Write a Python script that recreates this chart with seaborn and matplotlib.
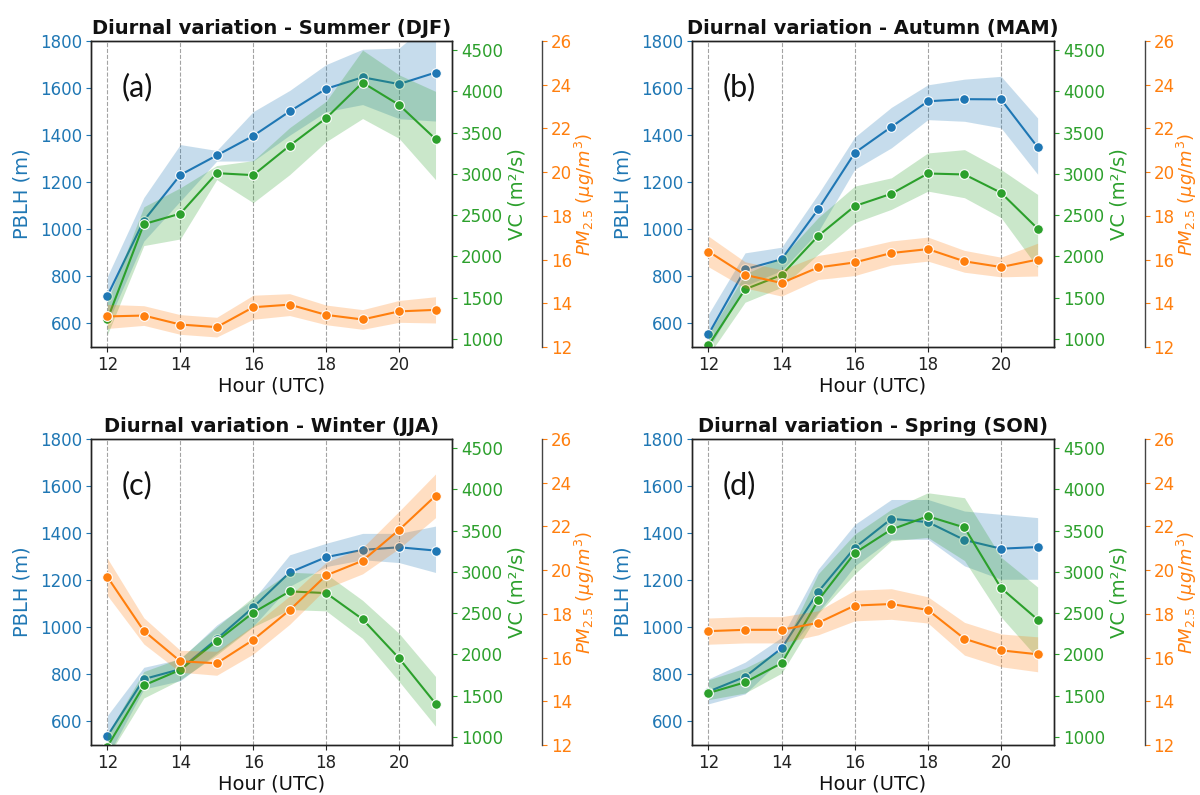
import matplotlib
matplotlib.use("Agg")
import matplotlib.pyplot as plt
import seaborn as sns

# ---------------- data ----------------
hours = [12, 13, 14, 15, 16, 17, 18, 19, 20, 21]
x_ticks = [12, 14, 16, 18, 20]
pblh_ticks = [600, 800, 1000, 1200, 1400, 1600, 1800]
vc_ticks = [1000, 1500, 2000, 2500, 3000, 3500, 4000, 4500]
pm_ticks = [12, 14, 16, 18, 20, 22, 24, 26]

titles = ["Diurnal variation - Summer (DJF)", "Diurnal variation - Autumn (MAM)",
          "Diurnal variation - Winter (JJA)", "Diurnal variation - Spring (SON)"]
panel_tags = ["(a)", "(b)", "(c)", "(d)"]

# Summer (DJF)
pblh_a = [717, 1037, 1231, 1314, 1397, 1501, 1597, 1646, 1617, 1666]
pblh_a_lo = [600, 950, 1120, 1290, 1290, 1400, 1500, 1530, 1470, 1460]
pblh_a_hi = [800, 1135, 1360, 1335, 1500, 1590, 1700, 1765, 1770, 1900]
vc_a = [1234, 2390, 2517, 3008, 2984, 3341, 3675, 4106, 3836, 3422]
vc_a_lo = [1050, 2130, 2210, 2930, 2650, 2990, 3390, 3670, 3430, 2930]
vc_a_hi = [1450, 2600, 2830, 3100, 3160, 3560, 3880, 4500, 4200, 4000]
pm_a = [13.40, 13.44, 13.03, 12.91, 13.82, 13.94, 13.47, 13.26, 13.63, 13.70]
pm_a_err = [0.55, 0.45, 0.45, 0.45, 0.55, 0.50, 0.45, 0.45, 0.50, 0.60]

# Autumn (MAM)
pblh_b = [554, 830, 873, 1085, 1325, 1435, 1544, 1553, 1552, 1349]
pblh_b_lo = [490, 760, 825, 990, 1255, 1346, 1466, 1459, 1431, 1234]
pblh_b_hi = [640, 900, 924, 1150, 1392, 1518, 1614, 1638, 1650, 1473]
vc_b = [920, 1600, 1773, 2247, 2609, 2758, 3004, 2992, 2770, 2336]
vc_b_lo = [800, 1443, 1624, 2026, 2408, 2569, 2790, 2710, 2469, 1865]
vc_b_hi = [1050, 1785, 1986, 2469, 2851, 2951, 3253, 3293, 3052, 2750]
pm_b = [16.37, 15.30, 14.93, 15.64, 15.87, 16.30, 16.48, 15.92, 15.66, 16.00]
pm_b_err = [0.70, 0.60, 0.60, 0.55, 0.60, 0.55, 0.55, 0.50, 0.45, 0.75]

# Winter (JJA)
pblh_c = [538, 780, 822, 950, 1085, 1233, 1298, 1329, 1340, 1326]
pblh_c_lo = [450, 738, 773, 890, 1005, 1174, 1258, 1287, 1275, 1233]
pblh_c_hi = [625, 830, 865, 1010, 1118, 1308, 1357, 1399, 1399, 1430]
vc_c = [880, 1623, 1811, 2160, 2505, 2762, 2742, 2425, 1952, 1402]
vc_c_lo = [750, 1470, 1691, 1992, 2333, 2542, 2526, 2192, 1671, 1129]
vc_c_hi = [1030, 1791, 1952, 2333, 2694, 2995, 2975, 2654, 2253, 1731]
pm_c = [19.69, 17.22, 15.83, 15.74, 16.81, 18.17, 19.76, 20.43, 21.84, 23.40]
pm_c_err = [0.85, 0.60, 0.50, 0.55, 0.65, 0.65, 0.60, 0.60, 0.85, 1.00]

# Spring (SON)
pblh_d = [727, 790, 911, 1151, 1338, 1461, 1447, 1371, 1334, 1341]
pblh_d_lo = [675, 717, 866, 1063, 1261, 1374, 1374, 1261, 1204, 1204]
pblh_d_hi = [781, 852, 957, 1247, 1437, 1543, 1543, 1494, 1480, 1466]
vc_d = [1530, 1660, 1892, 2654, 3228, 3513, 3673, 3537, 2803, 2421]
vc_d_lo = [1450, 1530, 1771, 2494, 2975, 3376, 3417, 3136, 2453, 1952]
vc_d_hi = [1691, 1832, 2052, 2975, 3457, 3758, 3958, 3898, 3176, 2815]
pm_d = [17.21, 17.27, 17.27, 17.59, 18.38, 18.45, 18.18, 16.86, 16.33, 16.15]
pm_d_err = [0.60, 0.60, 0.60, 0.55, 0.70, 0.70, 0.60, 0.75, 0.75, 0.80]

# ---------------- style ----------------
sns.set_theme(style="ticks")
plt.rcParams["font.family"] = ["DejaVu Sans"]
plt.rcParams["axes.edgecolor"] = "#222222"
plt.rcParams["axes.linewidth"] = 1.0
plt.rcParams["text.color"] = "#111111"

BLUE = "#1f77b4"
GREEN = "#2ca02c"
ORANGE = "#ff7f0e"
BAND_ALPHA = 0.25

fig = plt.figure(figsize=(12, 7.95), dpi=100)
positions = [
    [0.0758, 0.5635, 0.3008, 0.3849],
    [0.5767, 0.5635, 0.3017, 0.3849],
    [0.0758, 0.0629, 0.3008, 0.3849],
    [0.5767, 0.0629, 0.3017, 0.3849],
]

panels = [
    (pblh_a, pblh_a_lo, pblh_a_hi, vc_a, vc_a_lo, vc_a_hi, pm_a, pm_a_err),
    (pblh_b, pblh_b_lo, pblh_b_hi, vc_b, vc_b_lo, vc_b_hi, pm_b, pm_b_err),
    (pblh_c, pblh_c_lo, pblh_c_hi, vc_c, vc_c_lo, vc_c_hi, pm_c, pm_c_err),
    (pblh_d, pblh_d_lo, pblh_d_hi, vc_d, vc_d_lo, vc_d_hi, pm_d, pm_d_err),
]

line_kw = dict(marker="o", markersize=7, markeredgecolor="white",
               markeredgewidth=0.8, linewidth=1.5)
tick_kw = dict(labelsize=12, length=3.5, width=0.8, pad=3)

for i, (pb, pb_lo, pb_hi, vc, vc_lo, vc_hi, pm, pm_err) in enumerate(panels):
    ax = fig.add_axes(positions[i])
    ax2 = ax.twinx()
    ax3 = ax.twinx()
    ax3.spines["right"].set_position(("axes", 1.25))
    for s in ["left", "top", "bottom"]:
        ax3.spines[s].set_visible(False)
    ax3.spines["right"].set_color("#444444")

    # PBLH
    ax.fill_between(hours, pb_lo, pb_hi, color=BLUE, alpha=BAND_ALPHA, linewidth=0)
    sns.lineplot(x=hours, y=pb, color=BLUE, ax=ax, **line_kw)
    # VC
    ax2.fill_between(hours, vc_lo, vc_hi, color=GREEN, alpha=BAND_ALPHA, linewidth=0)
    sns.lineplot(x=hours, y=vc, color=GREEN, ax=ax2, **line_kw)
    # PM2.5
    pm_lo = [m - e for m, e in zip(pm, pm_err)]
    pm_hi = [m + e for m, e in zip(pm, pm_err)]
    ax3.fill_between(hours, pm_lo, pm_hi, color=ORANGE, alpha=BAND_ALPHA, linewidth=0)
    sns.lineplot(x=hours, y=pm, color=ORANGE, ax=ax3, **line_kw)

    ax.set_xlim(11.55, 21.45)
    ax.set_ylim(500, 1800)
    ax2.set_ylim(900, 4610)
    ax3.set_ylim(12, 26)
    ax.set_xticks(x_ticks)
    ax.set_yticks(pblh_ticks)
    ax2.set_yticks(vc_ticks)
    ax3.set_yticks(pm_ticks)

    ax.xaxis.grid(True, linestyle="--", color="0.55", linewidth=0.8, alpha=0.8)
    ax.set_axisbelow(True)

    ax.tick_params(axis="x", colors="#222222", **tick_kw)
    ax.tick_params(axis="y", colors=BLUE, **tick_kw)
    ax2.tick_params(axis="y", colors=GREEN, **tick_kw)
    ax3.tick_params(axis="y", colors=ORANGE, **tick_kw)

    ax.set_xlabel("Hour (UTC)", fontsize=14, color="#111111", labelpad=2)
    ax.set_ylabel("PBLH (m)", fontsize=14, color=BLUE, labelpad=6)
    ax2.set_ylabel("VC (m²/s)", fontsize=14, color=GREEN, labelpad=3)
    ax3.set_ylabel(r"$PM_{2.5}\ (\mu g/m^3)$", fontsize=13, color=ORANGE, labelpad=0)

    ax.set_title(titles[i], fontsize=14, fontweight="bold", color="#111111", pad=5)
    ax.text(0.085, 0.85, panel_tags[i], transform=ax.transAxes, fontsize=22,
            family=["Lato", "DejaVu Sans"], va="center", ha="left", color="#111111")

fig.savefig("out.png", dpi=100)
